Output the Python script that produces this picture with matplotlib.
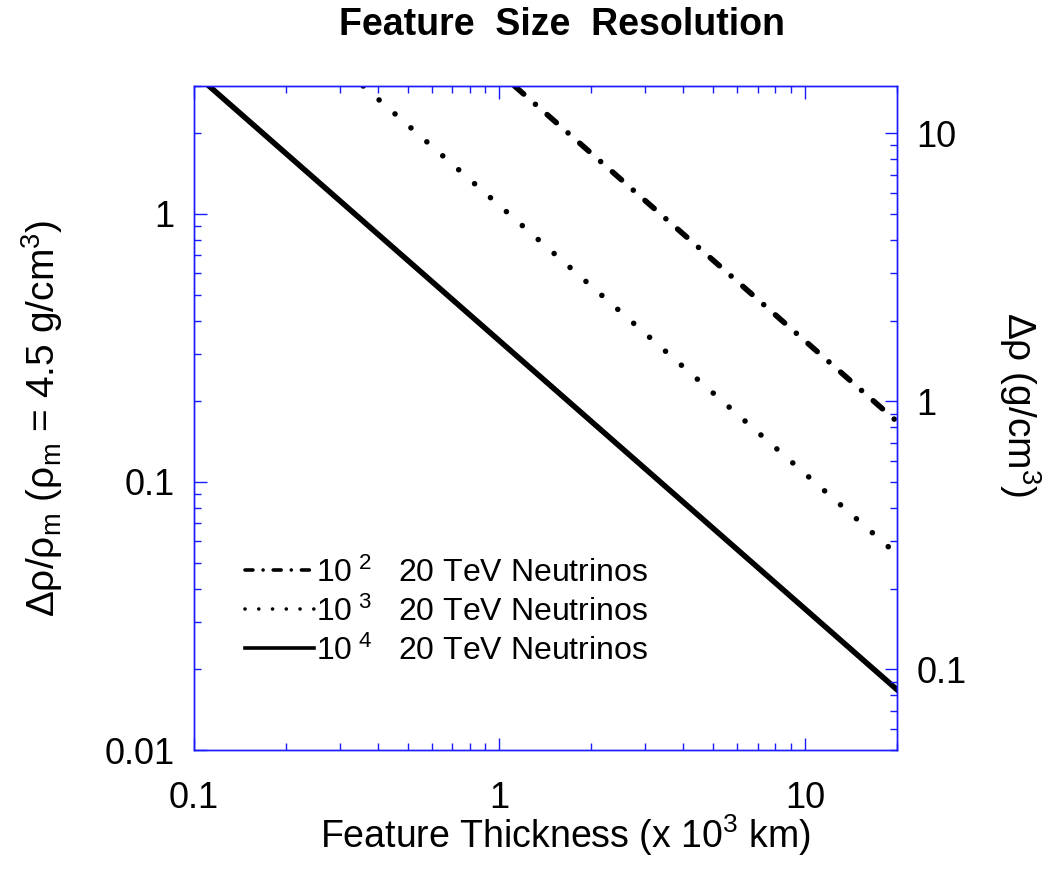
import matplotlib
matplotlib.use('Agg')
import matplotlib.pyplot as plt
from matplotlib.ticker import LogLocator, NullFormatter, FixedLocator, FixedFormatter

plt.rcParams['font.family'] = ['Liberation Sans', 'DejaVu Sans']
plt.rcParams['mathtext.fontset'] = 'custom'
plt.rcParams['mathtext.rm'] = 'Liberation Sans'
plt.rcParams['mathtext.it'] = 'Liberation Sans'

# datos (extremos de cada recta en log-log)
x_1e2 = [1.12, 20.0]
y_1e2 = [3.0, 0.168]
x_1e3 = [0.358, 20.0]
y_1e3 = [3.0, 0.0537]
x_1e4 = [0.112, 20.0]
y_1e4 = [3.0, 0.0168]

etiquetas = [r'10$^{\ 2}$   20 TeV Neutrinos',
             r'10$^{\ 3}$   20 TeV Neutrinos',
             r'10$^{\ 4}$   20 TeV Neutrinos']

x_ticks = [0.1, 1, 10]
x_ticklabels = ['0.1', '1', '10']
y_ticks = [0.01, 0.1, 1]
y_ticklabels = ['0.01', '0.1', '1']
y2_ticks = [0.1, 1, 10]
y2_ticklabels = ['0.1', '1', '10']
rho_factor = 5.0

azul = '#1a1aff'

fig = plt.figure(figsize=(10.57, 8.71), dpi=100)
ax = fig.add_axes([0.1835, 0.1389, 0.6651, 0.7624])

lw = 4.0
ax.plot(x_1e2, y_1e2, color='black', lw=lw, linestyle=(0, (2.2, 2.8, 0.01, 2.8)),
        dash_capstyle='round', label=etiquetas[0])
ax.plot(x_1e3, y_1e3, color='black', lw=lw, linestyle=(0, (0.01, 3.8)),
        dash_capstyle='round', label=etiquetas[1])
ax.plot(x_1e4, y_1e4, color='black', lw=lw, linestyle='-', label=etiquetas[2])

ax.set_xscale('log')
ax.set_yscale('log')
ax.set_xlim(0.1, 20)
ax.set_ylim(0.01, 3.0)

for s in ax.spines.values():
    s.set_color(azul)
    s.set_linewidth(1.0)

ax.xaxis.set_major_locator(FixedLocator(x_ticks))
ax.xaxis.set_major_formatter(FixedFormatter(x_ticklabels))
ax.xaxis.set_minor_locator(LogLocator(base=10, subs=range(2, 10)))
ax.xaxis.set_minor_formatter(NullFormatter())
ax.yaxis.set_major_locator(FixedLocator(y_ticks))
ax.yaxis.set_major_formatter(FixedFormatter(y_ticklabels))
ax.yaxis.set_minor_locator(LogLocator(base=10, subs=range(2, 10)))
ax.yaxis.set_minor_formatter(NullFormatter())

ax.tick_params(axis='x', which='both', direction='in', top=True, bottom=True,
               color=azul, labelsize=26, pad=22)
ax.tick_params(axis='y', which='both', direction='in', left=True, right=False,
               color=azul, labelsize=26, pad=14)
ax.tick_params(which='major', length=9, width=1.0)
ax.tick_params(which='minor', length=5, width=1.0)

ax2 = ax.twinx()
ax2.set_yscale('log')
ax2.set_ylim(0.01 * rho_factor, 3.0 * rho_factor)
ax2.yaxis.set_major_locator(FixedLocator(y2_ticks))
ax2.yaxis.set_major_formatter(FixedFormatter(y2_ticklabels))
ax2.yaxis.set_minor_locator(LogLocator(base=10, subs=range(2, 10)))
ax2.yaxis.set_minor_formatter(NullFormatter())
ax2.tick_params(axis='y', which='both', direction='in', color=azul, labelsize=26, pad=14)
ax2.tick_params(which='major', length=9, width=1.0)
ax2.tick_params(which='minor', length=5, width=1.0)
for s in ax2.spines.values():
    s.set_color(azul)
    s.set_linewidth(1.0)

leg = ax.legend(loc='center left', bbox_to_anchor=(0.073, 0.208), frameon=False,
                fontsize=23, handlelength=2.15, handletextpad=0.05,
                labelspacing=0.24, borderpad=0, borderaxespad=0)
for h in leg.get_lines():
    h.set_linewidth(2.6)

fig.text(0.532, 0.971, 'Feature  Size  Resolution', ha='center', va='center',
         fontsize=27, fontweight='bold')
fig.text(0.535, 0.041, r'Feature Thickness (x 10$^3$ km)', ha='center', va='center',
         fontsize=27)
fig.text(0.04, 0.52, r'Δρ/ρ$_{\rm m}$ (ρ$_{\rm m}$ = 4.5 g/cm$^3$)', ha='center', va='center',
         rotation=90, fontsize=28)
fig.text(0.965, 0.535, r'Δρ (g/cm$^3$)', ha='center', va='center',
         rotation=-90, fontsize=28)

fig.savefig('out.png', dpi=100)
